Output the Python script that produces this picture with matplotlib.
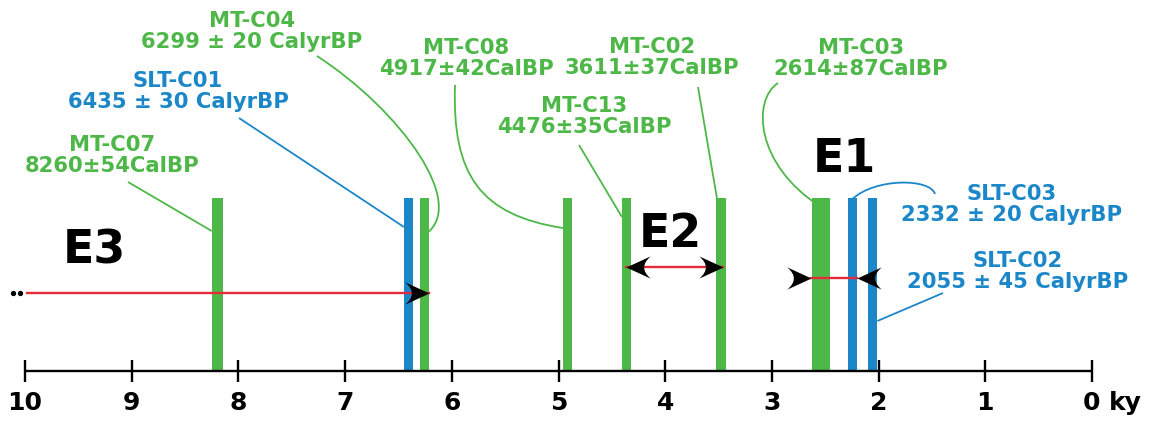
import matplotlib
matplotlib.use("Agg")
import matplotlib.pyplot as plt
from matplotlib.path import Path
from matplotlib.patches import PathPatch

plt.rcParams['font.family'] = ['DejaVu Sans']

# ---------------- data ----------------
sample_ids = ["MT-C07", "SLT-C01", "MT-C04", "MT-C08", "MT-C13",
              "MT-C02", "MT-C03", "SLT-C03", "SLT-C02"]
sample_site = ["MT", "SLT", "MT", "MT", "MT", "MT", "MT", "SLT", "SLT"]
age_text = ["8260±54CalBP", "6435 ± 30 CalyrBP", "6299 ± 20 CalyrBP",
            "4917±42CalBP", "4476±35CalBP", "3611±37CalBP",
            "2614±87CalBP", "2332 ± 20 CalyrBP", "2055 ± 45 CalyrBP"]
age_err_yr = [54, 30, 20, 42, 35, 37, 87, 20, 45]
# bar positions as drawn in the figure (ky BP)
bar_pos_ky = [8.196, 6.406, 6.256, 4.916, 4.363, 3.477, 2.540, 2.245, 2.057]

tick_values = [10, 9, 8, 7, 6, 5, 4, 3, 2, 1, 0]
tick_labels = [str(v) for v in tick_values]
axis_unit = "ky"

event_names = ["E3", "E2", "E1"]
event_old_ky = [9.98, 4.367, 2.633]
event_young_ky = [6.21, 3.458, 2.202]

# ---------------- style / layout ----------------
GREEN = "#4db848"
BLUE = "#1b87c9"
RED = "#e52b3a"
site_color = {"MT": GREEN, "SLT": BLUE}

W, H, DPI = 1153, 421, 100
PX0, PXK, PY0 = 1092.0, 106.7, 371.0   # pixel of 0 ky, pixels per ky, axis row


def X(px):
    return (PX0 - px) / PXK


def Y(py):
    return PY0 - py


fig = plt.figure(figsize=(W / DPI, H / DPI), dpi=DPI)
ax = fig.add_axes([0, 0, 1, 1])
ax.axis('off')
ax.set_xlim(X(0), X(W))
ax.set_ylim(Y(H), Y(0))

# bars
widths = [max(2 * e / 1000.0, 0.085) for e in age_err_yr]
colors = [site_color[s] for s in sample_site]
ax.bar(bar_pos_ky, Y(198), width=widths, bottom=0, color=colors,
       linewidth=0, zorder=2)

# time axis
ax.plot([tick_values[0], tick_values[-1]], [0, 0], color='black', lw=1.7,
        zorder=3, solid_capstyle='butt')
ax.vlines(tick_values, -11, 11, color='black', lw=1.7, zorder=3)
for v, lab in zip(tick_values, tick_labels):
    ax.text(v, Y(410), lab, ha='center', va='baseline', fontsize=18,
            fontweight='bold', color='black')
ax.annotate(axis_unit, xy=(tick_values[-1], Y(410)), xytext=(12.5, 0),
            textcoords='offset points', ha='left', va='baseline',
            fontsize=18, fontweight='bold', color='black')

# sample labels and leader lines
label_layout = {
    "MT-C07": (112, 151), "SLT-C01": (178, 87), "MT-C04": (252, 27),
    "MT-C08": (466, 54), "MT-C13": (584, 112), "MT-C02": (652, 53),
    "MT-C03": (861, 54), "SLT-C03": (1012, 200), "SLT-C02": (1018, 267),
}
leader_layout = {
    "MT-C07": ((128, 182), None, 231, 'left'),
    "SLT-C01": ((239, 118), None, 227, 'left'),
    "MT-C04": ((317, 56), [(400, 110), (470, 205)], 235, 'center'),
    "MT-C08": ((455, 85), [(452, 175), (480, 215)], 228, 'left'),
    "MT-C13": ((579, 145), None, 217, 'left'),
    "MT-C02": ((698, 87), None, 222, 'center'),
    "MT-C03": ((778, 83), [(752, 100), (755, 165)], 207, 'center'),
    "SLT-C03": ((935, 194), [(930, 178), (875, 178)], 199, 'center'),
    "SLT-C02": ((943, 293), None, 321, 'right'),
}

for sid, txt, pos, w, col in zip(sample_ids, age_text, bar_pos_ky, widths, colors):
    cx, base = label_layout[sid]
    for i, line in enumerate([sid, txt]):
        ax.text(X(cx), Y(base + 21 * i), line, ha='center', va='baseline',
                fontsize=15.2, fontweight='bold', color=col, zorder=5)
    start, ctrl, end_py, side = leader_layout[sid]
    ex = pos + {'left': w / 2, 'right': -w / 2, 'center': 0}[side]
    p0 = (X(start[0]), Y(start[1]))
    p3 = (ex, Y(end_py))
    if ctrl is None:
        verts = [p0, p3]
        codes = [Path.MOVETO, Path.LINETO]
    else:
        verts = [p0, (X(ctrl[0][0]), Y(ctrl[0][1])),
                 (X(ctrl[1][0]), Y(ctrl[1][1])), p3]
        codes = [Path.MOVETO, Path.CURVE4, Path.CURVE4, Path.CURVE4]
    ax.add_patch(PathPatch(Path(verts, codes), fill=False, edgecolor=col,
                           lw=1.3, zorder=4))


# event arrows (heads with concave back)
def head_path(direction):
    s = direction  # +1 points right on screen, -1 points left
    verts = [(0, 0), (-1 * s, 0.46),
             (-0.45 * s, 0), (-1 * s, -0.46),
             (0, 0), (0, 0)]
    codes = [Path.MOVETO, Path.LINETO,
             Path.CURVE3, Path.CURVE3,
             Path.LINETO, Path.CLOSEPOLY]
    return Path(verts, codes)


head_r = head_path(+1)
head_l = head_path(-1)


def head(x, y, marker):
    ax.plot([x], [y], marker=marker, ms=35, mfc='black', mec='black',
            mew=0, linestyle='none', zorder=7)


arrow_rows = {"E3": 293, "E2": 267, "E1": 278}
name_layout = {"E3": (94, 263), "E2": (670, 247), "E1": (844, 172)}

for name, old, young in zip(event_names, event_old_ky, event_young_ky):
    y = Y(arrow_rows[name])
    ax.plot([old, young], [y, y], color=RED, lw=1.7, zorder=6)
    if name == "E3":
        head(young, y, head_r)
        ax.plot([old + 0.065, old + 0.13], [y, y], 'o', color='black', ms=2.8,
                zorder=6)
    elif name == "E2":
        head(old, y, head_l)
        head(young, y, head_r)
    else:
        head(old, y, head_r)
        head(young, y, head_l)
    tx, tb = name_layout[name]
    ax.text(X(tx), Y(tb), name, ha='center', va='baseline', fontsize=33,
            fontweight='bold', color='black', zorder=8)

fig.savefig("out.png", dpi=DPI)
